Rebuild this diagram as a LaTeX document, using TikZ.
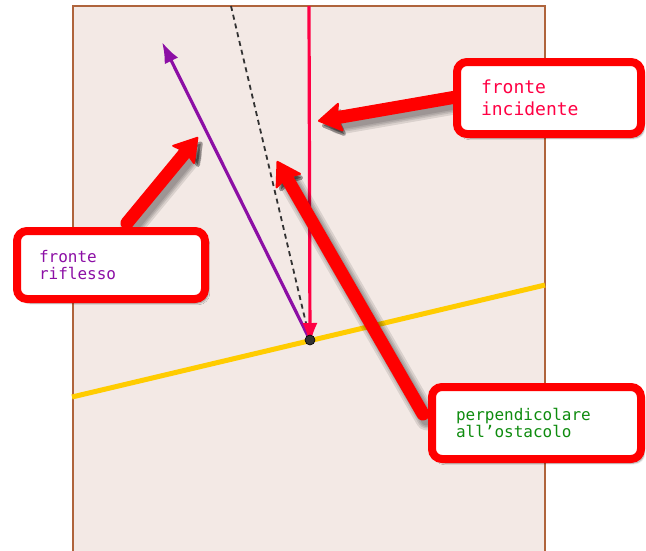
\documentclass[tikz,border=0pt]{standalone}
\usepackage{fontspec}
\newfontfamily\labelfont{DejaVu Sans Mono}
\usetikzlibrary{arrows.meta,shadows.blur}

\definecolor{panel}{RGB}{243,233,229}
\definecolor{panelrule}{RGB}{175,100,60}
\definecolor{obstacle}{RGB}{255,204,0}
\definecolor{incident}{RGB}{255,0,68}
\definecolor{reflected}{RGB}{140,15,165}
\definecolor{calloutred}{RGB}{255,0,0}
\definecolor{normalgreen}{RGB}{15,140,15}
\definecolor{pointgray}{RGB}{50,50,50}

\tikzset{
  bigtip/.style={-{Stealth[length=25pt,width=31pt,inset=4pt,round,line width=#1]}},
  fatarrow/.style={draw=calloutred, line width=13pt, line cap=round, bigtip=2pt},
  fatshade/.style={draw=black, opacity=0.1, line width=#1, line cap=round, bigtip=4pt},
  callout/.style={draw=calloutred, line width=8pt, fill=white, rounded corners=10pt,
    align=left, minimum height=72pt, inner ysep=0pt,
    blur shadow={shadow xshift=3pt, shadow yshift=-4pt, shadow blur steps=8, shadow opacity=40}},
  smalltext/.style={font=\labelfont\fontsize{16}{17.5}\selectfont},
  bigtext/.style={font=\labelfont\fontsize{18}{22}\selectfont},
}

% thick pointer with a soft drop shadow
\newcommand\pointer[2]{%
  \begin{scope}[transform canvas={shift={(4pt,-5pt)}}]
    \foreach \w in {23pt,19pt,16pt,13pt}{\draw[fatshade=\w] (#1) -- (#2);}
  \end{scope}
  \draw[fatarrow] (#1) -- (#2);}

\begin{document}
\begin{tikzpicture}[x=1pt,y=-1pt]
  \useasboundingbox (0,0) rectangle (646,550);
  \clip (0,0) rectangle (646,550);

  % background panel
  \draw[panelrule, line width=1.5pt, fill=panel] (73,6) rectangle (545,570);

  % key points
  \coordinate (P) at (310,340);
  \coordinate (obsL) at (72,397);
  \coordinate (obsR) at (545,285);
  \coordinate (normTop) at (231,6);
  \coordinate (incTop) at (309,6);
  \coordinate (refTip) at (162,42);

  % obstacle, normal, reflected and incident fronts
  \draw[obstacle, line width=5pt] (obsL) -- (obsR);
  \draw[pointgray, line width=1.8pt, dash pattern=on 5pt off 4pt] (normTop) -- (P);
  \draw[reflected, line width=3.2pt, -{Latex[length=21pt,width=15pt]}] (P) -- (refTip);
  \draw[incident, line width=3.2pt, -{Latex[length=22pt,width=15pt]}] (incTop) -- ([yshift=-5pt]P);
  \node[circle, fill=pointgray, draw=black, line width=0.6pt, minimum size=10pt, inner sep=0pt] (dot) at (P) {};

  % pointer coordinates
  \coordinate (aTail) at (456,97);
  \coordinate (aTip) at (318,121);
  \coordinate (bTail) at (127,223);
  \coordinate (bTip) at (198,137);
  \coordinate (cTail) at (423,414);
  \coordinate (cTip) at (277,161);

  \pointer{aTail}{aTip}
  \pointer{bTail}{bTip}
  \pointer{cTail}{cTip}

  % callout boxes
  \node[callout, bigtext, text=incident, inner xsep=24pt, text width=136pt] (boxInc) at (549,98)
    {fronte\\incidente};
  \node[callout, smalltext, text=reflected, inner xsep=22pt, text width=144pt, minimum height=68pt] (boxRef) at (111,265)
    {fronte\\riflesso};
  \node[callout, smalltext, text=normalgreen, inner xsep=24pt, text width=161pt] (boxNorm) at (536.5,423)
    {perpendicolare\\all’ostacolo};
\end{tikzpicture}
\end{document}
